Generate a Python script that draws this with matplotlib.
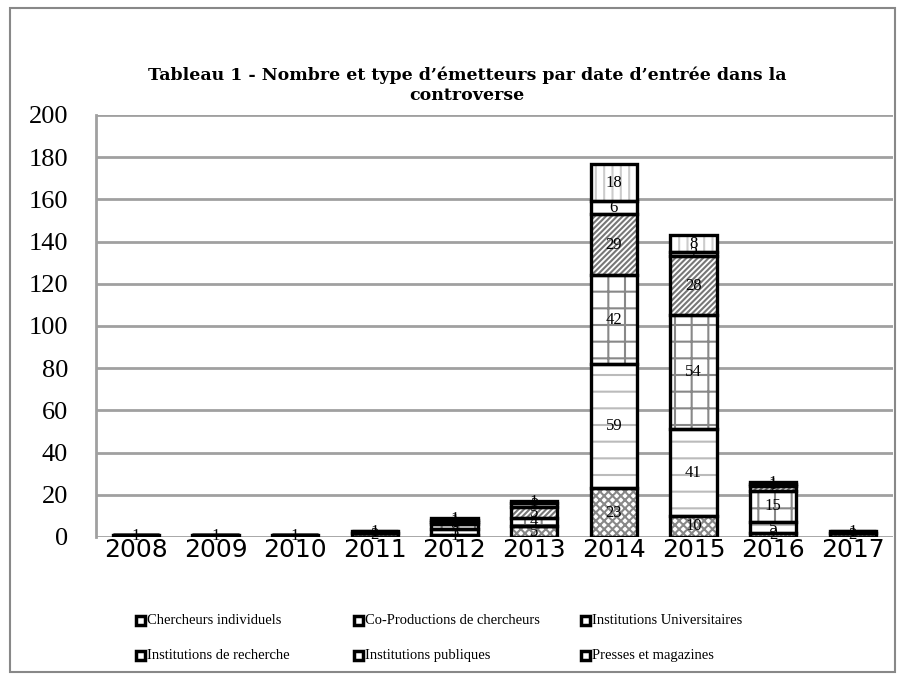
import matplotlib
matplotlib.use("Agg")
import matplotlib.pyplot as plt
from matplotlib.patches import Rectangle
import numpy as np

years = ["2008", "2009", "2010", "2011", "2012", "2013", "2014", "2015", "2016", "2017"]
series_names = ["Chercheurs individuels", "Co-Productions de chercheurs", "Institutions Universitaires",
                "Institutions de recherche", "Institutions publiques", "Presses et magazines"]
chercheurs = [1, 1, 1, 2, 1, 5, 23, 10, 2, 2]
coprod = [0, 0, 0, 0, 3, 0, 59, 41, 5, 0]
univ = [0, 0, 0, 0, 2, 4, 42, 54, 15, 0]
recherche = [0, 0, 0, 0, 1, 5, 29, 28, 2, 0]
publiques = [0, 0, 0, 1, 1, 2, 6, 2, 1, 1]
presses = [0, 0, 0, 0, 1, 1, 18, 8, 1, 0]
title = "Tableau 1 - Nombre et type d\u2019\u00e9metteurs par date d\u2019entr\u00e9e dans la\ncontroverse"

series = [chercheurs, coprod, univ, recherche, publiques, presses]
hatches = ["xxxx", "-", "+", "//////", "", "||"]
hcolors = ["#888888", "#bbbbbb", "#888888", "#777777", "#999999", "#cccccc"]

plt.rcParams["font.family"] = ["Liberation Serif", "DejaVu Serif"]
plt.rcParams["hatch.linewidth"] = 1.5

fig = plt.figure(figsize=(9.09, 6.80), dpi=100)
ax = fig.add_axes([0.1056, 0.2103, 0.8764, 0.6206])

x = np.arange(len(years))
bottom = np.zeros(len(years))
w = 0.58
for vals, h, hc in zip(series, hatches, hcolors):
    vals = np.array(vals, dtype=float)
    ax.bar(x, vals, w, bottom=bottom, color="white", edgecolor=hc, hatch=h, linewidth=0, zorder=3)
    bars = ax.bar(x, vals, w, bottom=bottom, fill=False, edgecolor="black", linewidth=2.4, zorder=4)
    labels = [str(int(v)) if v > 0 else "" for v in vals]
    ax.bar_label(bars, labels=labels, label_type="center", fontsize=12, zorder=5)
    bottom += vals

ax.set_xlim(-0.5, len(years) - 0.5)
ax.set_ylim(0, 200)
ax.set_yticks(np.arange(0, 201, 20))
ax.set_xticks(x)
ax.set_xticklabels(years, fontfamily=["DejaVu Sans"], fontsize=18)
ax.tick_params(axis="both", length=0)
ax.tick_params(axis="y", labelsize=19, pad=20)
ax.tick_params(axis="x", pad=1)
ax.grid(axis="y", color="#a0a0a0", linewidth=2, zorder=0)
for s in ["top", "right", "bottom"]:
    ax.spines[s].set_visible(False)
ax.spines["left"].set_color("#a0a0a0")
ax.spines["left"].set_linewidth(2)

fig.text(0.514, 0.875, title, ha="center", va="center", fontsize=12.5, fontweight="bold",
         family=["DejaVu Serif"], linespacing=1.25)

# outer border
fig.patches.append(Rectangle((10 / 909, 8 / 680), 885 / 909, 664 / 680, transform=fig.transFigure,
                             fill=False, edgecolor="#888888", linewidth=1.5))

# legend
pos = [(140, 620), (358, 620), (585, 620), (140, 655), (358, 655), (585, 655)]
for (px, py), name, h, hc in zip(pos, series_names, hatches, hcolors):
    fx, fy = px / 909, 1 - py / 680
    sw, sh = 9 / 909, 9 / 680
    fig.patches.append(Rectangle((fx - sw / 2, fy - sh / 2), sw, sh, transform=fig.transFigure,
                                 facecolor="white", edgecolor="black", linewidth=2.5))
    fig.text(fx + 7 / 909, fy + 1 / 680, name, ha="left", va="center_baseline", fontsize=10.5)

fig.savefig("out.png", dpi=100)
